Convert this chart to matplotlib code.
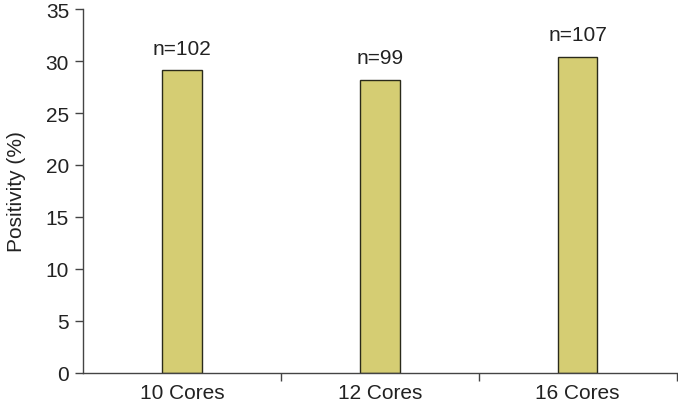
import numpy as np
import matplotlib
matplotlib.use('Agg')
import matplotlib.pyplot as plt

plt.rcParams['font.family'] = ['Liberation Sans', 'DejaVu Sans']

# datos
categorias = ['10 Cores', '12 Cores', '16 Cores']
positividad = [29.1, 28.2, 30.4]
etiquetas_n = ['n=102', 'n=99', 'n=107']

fs = 15

fig = plt.figure(figsize=(6.78, 4.06), dpi=100)
ax = fig.add_axes([83/678, 1 - 374/406, 1 - 83/678 - 0.002, (374 - 10)/406])

x = np.arange(len(categorias))
ax.bar(x, positividad, width=0.2, color='#d5cd73', edgecolor='#2a2a1a', linewidth=1)

for xi, v, lab in zip(x, positividad, etiquetas_n):
    ax.text(xi, v + 1.2, lab, ha='center', va='bottom', fontsize=fs, color='#222222')

ax.set_xlim(-0.5, 2.5)
ax.set_ylim(0, 35)
ax.set_yticks(np.arange(0, 36, 5))
ax.set_xticks(x)
ax.set_xticklabels(categorias)
ax.set_xticks([0.5, 1.5, 2.5], minor=True)
ax.tick_params(axis='x', which='major', length=0, pad=7, labelsize=fs, labelcolor='#222222')
ax.tick_params(axis='x', which='minor', length=6, width=1, color='#444444', direction='out')
ax.tick_params(axis='y', length=6, width=1, color='#444444', labelsize=fs, labelcolor='#222222', pad=4)
ax.set_ylabel('Positivity (%)', fontsize=fs, color='#222222', labelpad=14)

ax.spines['top'].set_visible(False)
ax.spines['right'].set_visible(False)
for s in ['left', 'bottom']:
    ax.spines[s].set_color('#444444')
    ax.spines[s].set_linewidth(1)

fig.savefig('out.png', dpi=100)
